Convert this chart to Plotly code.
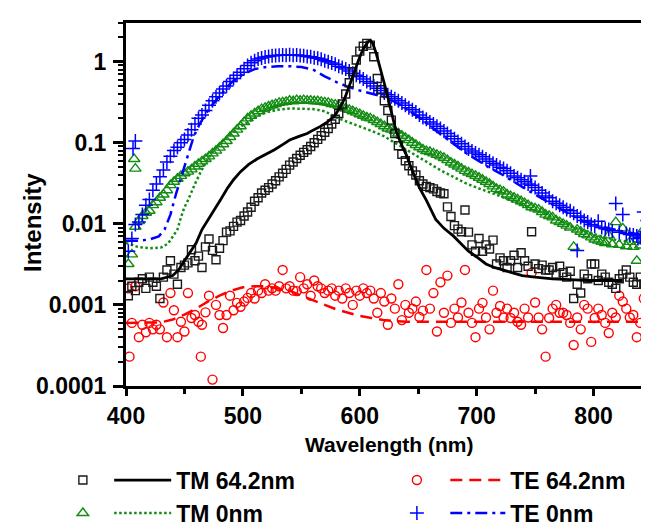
import plotly.graph_objects as go

# ---------------- data ----------------
# common sampling grid of the measured spectra (nm)
wavelength = list(range(402, 850, 3))

tm64_data = [0.0013, 0.0017, 0.0015, 0.0019, 0.0021, 0.0016, 0.0022, 0.0019, 0.0017, 0.0012,
             0.0022, 0.0027, 0.0035, 0.0024, 0.0018, 0.0029, 0.0031, 0.0033, 0.0048, 0.0035,
             0.0040, 0.0029, 0.0052, 0.0065, 0.0047, 0.0036, 0.0050, 0.0062, 0.0079, 0.0082,
             0.0093, 0.0105, 0.0110, 0.0125, 0.0140, 0.0160, 0.0190, 0.0210, 0.0240, 0.0260,
             0.0280, 0.0310, 0.0340, 0.0380, 0.0420, 0.0470, 0.0530, 0.0580, 0.0640, 0.0700,
             0.0760, 0.0820, 0.0900, 0.1000, 0.1100, 0.1220, 0.1350, 0.1500, 0.1700, 0.1950,
             0.2300, 0.3000, 0.4000, 0.5500, 0.7500, 1.0500, 1.3500, 1.5500, 1.6800, 1.6000,
             1.1500, 0.6200, 0.4500, 0.3300, 0.2500, 0.1900, 0.1300, 0.0920, 0.0720, 0.0600,
             0.0520, 0.0450, 0.0400, 0.0340, 0.0310, 0.0290, 0.0280, 0.0270, 0.0250, 0.0240,
             0.0235, 0.0162, 0.0123, 0.0095, 0.0086, 0.0080, 0.0148, 0.0079, 0.0055, 0.0046,
             0.0066, 0.0046, 0.0055, 0.0049, 0.0063, 0.0032, 0.0038, 0.0035, 0.0029, 0.0035,
             0.0041, 0.0029, 0.0044, 0.0035, 0.0030, 0.0080, 0.0032, 0.0028, 0.0031, 0.0027,
             0.0027, 0.0029, 0.0024, 0.0030, 0.0025, 0.0022, 0.0026, 0.0012, 0.0018, 0.0014,
             0.0024, 0.0021, 0.0032, 0.0032, 0.0020, 0.0024, 0.0022, 0.0019, 0.0018, 0.0016,
             0.0021, 0.0024, 0.0027, 0.0022, 0.0019, 0.0018, 0.0022, 0.0018, 0.0021, 0.0018]

tm0_data = [0.0032, 0.0042, 0.0092, 0.0108, 0.0125, 0.0137, 0.0145, 0.0170, 0.0185, 0.0210,
            0.0230, 0.0260, 0.0300, 0.0330, 0.0360, 0.0390, 0.0420, 0.0440, 0.0470, 0.0510,
            0.0550, 0.0590, 0.0630, 0.0680, 0.0740, 0.0800, 0.0870, 0.0960, 0.1050, 0.1180,
            0.1300, 0.1450, 0.1600, 0.1800, 0.2000, 0.2150, 0.2300, 0.2450, 0.2600, 0.2700,
            0.2800, 0.2900, 0.3000, 0.3100, 0.3150, 0.3200, 0.3300, 0.3250, 0.3350, 0.3300,
            0.3350, 0.3300, 0.3300, 0.3250, 0.3250, 0.3200, 0.3150, 0.3100, 0.3000, 0.2950,
            0.2850, 0.2750, 0.2650, 0.2550, 0.2450, 0.2350, 0.2250, 0.2150, 0.2050, 0.2000,
            0.1900, 0.1800, 0.1700, 0.1600, 0.1500, 0.1450, 0.1400, 0.1300, 0.1220, 0.1150,
            0.1080, 0.1000, 0.0940, 0.0880, 0.0830, 0.0790, 0.0770, 0.0740, 0.0710, 0.0680,
            0.0650, 0.0610, 0.0570, 0.0540, 0.0510, 0.0480, 0.0450, 0.0430, 0.0410, 0.0390,
            0.0370, 0.0350, 0.0330, 0.0310, 0.0290, 0.0270, 0.0260, 0.0250, 0.0230, 0.0220,
            0.0210, 0.0200, 0.0190, 0.0180, 0.0170, 0.0160, 0.0155, 0.0150, 0.0140, 0.0130,
            0.0125, 0.0120, 0.0110, 0.0105, 0.0100, 0.0095, 0.0090, 0.0052, 0.0085, 0.0080,
            0.0075, 0.0072, 0.0068, 0.0064, 0.0062, 0.0060, 0.0058, 0.0072, 0.0056, 0.0105,
            0.0055, 0.0088, 0.0053, 0.0060, 0.0052, 0.0035, 0.0054, 0.0086, 0.0050, 0.0051]

te64_data = [0.00160, 0.00060, 0.00170, 0.00040, 0.00057, 0.00046, 0.00060, 0.00050, 0.00057, 0.00050,
             0.00107, 0.00040, 0.00140, 0.00086, 0.00040, 0.00062, 0.00047, 0.00140, 0.00069, 0.00075,
             0.00062, 0.00057, 0.00081, 0.00130, 0.00012, 0.00100, 0.00075, 0.00052, 0.00075, 0.00130,
             0.00086, 0.00106, 0.00095, 0.00110, 0.00122, 0.00140, 0.00120, 0.00150, 0.00140, 0.00180,
             0.00150, 0.00160, 0.00150, 0.00170, 0.00270, 0.00160, 0.00170, 0.00150, 0.00148, 0.00220,
             0.00160, 0.00180, 0.00130, 0.00200, 0.00170, 0.00160, 0.00140, 0.00150, 0.00160, 0.00130,
             0.00150, 0.00120, 0.00160, 0.00140, 0.00100, 0.00150, 0.00130, 0.00160, 0.00140, 0.00150,
             0.00120, 0.00080, 0.00140, 0.00110, 0.00057, 0.00120, 0.00090, 0.00180, 0.00065, 0.00100,
             0.00080, 0.00090, 0.00110, 0.00071, 0.00085, 0.00270, 0.00090, 0.00140, 0.00047, 0.00190,
             0.00080, 0.00230, 0.00060, 0.00090, 0.00070, 0.00107, 0.00270, 0.00080, 0.00060, 0.00040,
             0.00090, 0.00106, 0.00070, 0.00050, 0.00150, 0.00080, 0.00097, 0.00070, 0.00090, 0.00069,
             0.00080, 0.00062, 0.00057, 0.00090, 0.00070, 0.00250, 0.00107, 0.00070, 0.00050, 0.00023,
             0.00069, 0.00090, 0.00100, 0.00080, 0.00080, 0.00075, 0.00060, 0.00032, 0.00070, 0.00050,
             0.00100, 0.00090, 0.00035, 0.00069, 0.00090, 0.00075, 0.00060, 0.00045, 0.00080, 0.00070,
             0.00130, 0.00110, 0.00090, 0.00070, 0.00075, 0.00040, 0.00060, 0.00120, 0.00057, 0.00065]

te0_data = [0.0046, 0.0066, 0.0098, 0.0105, 0.0130, 0.0170, 0.0200, 0.0260, 0.0310, 0.0380,
            0.0460, 0.0580, 0.0680, 0.0800, 0.0880, 0.1000, 0.1100, 0.1250, 0.1450, 0.1700,
            0.2000, 0.2200, 0.2500, 0.2900, 0.3300, 0.3700, 0.4100, 0.4600, 0.5000, 0.5700,
            0.6200, 0.6800, 0.7400, 0.8200, 0.9000, 0.9700, 1.0300, 1.0800, 1.1100, 1.1400,
            1.1600, 1.1800, 1.1900, 1.2000, 1.2100, 1.2000, 1.2200, 1.2000, 1.2100, 1.1900,
            1.1800, 1.1600, 1.1500, 1.1200, 1.1000, 1.0700, 1.0300, 1.0000, 0.9600, 0.9300,
            0.8800, 0.8500, 0.8100, 0.7700, 0.7200, 0.6800, 0.6500, 0.6100, 0.5700, 0.5400,
            0.5000, 0.4700, 0.4400, 0.4100, 0.3900, 0.3700, 0.3500, 0.3300, 0.3100, 0.2900,
            0.2700, 0.2550, 0.2400, 0.2200, 0.2050, 0.1950, 0.1800, 0.1700, 0.1600, 0.1500,
            0.1400, 0.1300, 0.1200, 0.1120, 0.1040, 0.0970, 0.0900, 0.0840, 0.0790, 0.0750,
            0.0710, 0.0670, 0.0630, 0.0590, 0.0560, 0.0530, 0.0500, 0.0480, 0.0450, 0.0420,
            0.0390, 0.0370, 0.0350, 0.0330, 0.0310, 0.0300, 0.0280, 0.0260, 0.0240, 0.0220,
            0.0210, 0.0190, 0.0180, 0.0170, 0.0160, 0.0150, 0.0145, 0.0135, 0.0125, 0.0120,
            0.0110, 0.0105, 0.0098, 0.0094, 0.0108, 0.0090, 0.0087, 0.0085, 0.0082, 0.0178,
            0.0079, 0.0130, 0.0076, 0.0074, 0.0073, 0.0071, 0.0068, 0.0140, 0.0110, 0.0066]

# scattered extra points off the common grid
tm0_extra_wl = [407, 408]
tm0_extra = [0.063, 0.048]
te0_extra_wl = [406, 408, 746, 786, 838]
te0_extra = [0.085, 0.105, 0.039, 0.0047, 0.0066]
te64_extra_wl = [403, 464]
te64_extra = [0.00023, 0.00023]

# fitted / simulated curves
tm64_fit_wl = [400, 410, 420, 430, 440, 445, 450, 455, 460, 465, 470, 476, 481, 487, 492, 498,
               505, 512, 520, 527, 535, 540, 548, 555, 560, 566, 572, 578, 583, 587, 591, 595,
               599, 603, 607, 609, 611, 614, 618, 623, 627, 631, 635, 640, 645, 651, 657, 665,
               672, 680, 686, 693, 700, 708, 715, 722, 730, 739, 750, 765, 780, 795, 810, 825]
tm64_fit = [0.0021, 0.0021, 0.0021, 0.0021, 0.0023, 0.0027, 0.0035, 0.0045, 0.0058, 0.0085,
            0.011, 0.015, 0.020, 0.0278, 0.035, 0.044, 0.054, 0.063, 0.072, 0.082, 0.097, 0.108,
            0.12, 0.13, 0.143, 0.158, 0.18, 0.21, 0.27, 0.35, 0.5, 0.73, 1.05, 1.45, 1.75, 1.82,
            1.7, 1.27, 0.8, 0.42, 0.24, 0.14, 0.1, 0.07, 0.045, 0.028, 0.0195, 0.0113, 0.0088,
            0.0071, 0.0058, 0.0046, 0.0039, 0.0032, 0.0029, 0.0027, 0.0025, 0.0023, 0.0022,
            0.0021, 0.00205, 0.002, 0.002, 0.002]

tm0_fit_wl = [400, 410, 420, 430, 436, 440, 444, 447, 450, 453, 456, 459, 464, 470, 475, 481,
              487, 493, 500, 506, 513, 521, 530, 540, 550, 560, 570, 580, 590, 600, 610, 620,
              630, 640, 650, 660, 670, 680, 690, 700, 710, 720, 730, 740, 750, 760, 770, 780,
              790, 800, 810, 820, 830, 840, 850]
tm0_fit = [0.0058, 0.0052, 0.005, 0.0051, 0.0057, 0.007, 0.0085, 0.012, 0.016, 0.0195, 0.025,
           0.031, 0.044, 0.063, 0.08, 0.1, 0.12, 0.14, 0.165, 0.186, 0.215, 0.24, 0.255, 0.265,
           0.265, 0.26, 0.245, 0.205, 0.18, 0.16, 0.14, 0.122, 0.1, 0.083, 0.068, 0.055, 0.045,
           0.038, 0.032, 0.028, 0.025, 0.022, 0.019, 0.017, 0.015, 0.013, 0.011, 0.0095, 0.0083,
           0.0075, 0.0068, 0.0063, 0.006, 0.0058, 0.0056]

te64_fit_wl = [400, 410, 420, 430, 440, 450, 460, 470, 480, 490, 500, 510, 520, 530, 540, 550,
               560, 570, 580, 590, 600, 610, 620, 630, 640, 660, 700, 750, 800, 850]
te64_fit = [0.0006, 0.0006, 0.0006, 0.00061, 0.00066, 0.00076, 0.0009, 0.0011, 0.0013, 0.0015,
            0.00165, 0.0017, 0.0017, 0.0016, 0.0015, 0.0013, 0.00115, 0.001, 0.00088, 0.0008,
            0.00073, 0.00069, 0.00065, 0.00063, 0.00062, 0.00062, 0.00062, 0.00062, 0.00062, 0.00062]

te0_fit_wl = [400, 410, 420, 428, 433, 438, 443, 448, 453, 458, 463, 470, 480, 490, 500, 510,
              520, 530, 540, 550, 560, 570, 580, 590, 600, 610, 620, 630, 640, 650, 660, 670,
              680, 690, 700, 710, 720, 730, 740, 750, 760, 770, 780, 790, 800, 810, 820, 830,
              840, 850]
te0_fit = [0.0062, 0.0062, 0.0064, 0.007, 0.0085, 0.013, 0.024, 0.042, 0.07, 0.12, 0.17, 0.25,
           0.38, 0.55, 0.7, 0.81, 0.86, 0.88, 0.88, 0.86, 0.8, 0.66, 0.56, 0.49, 0.44, 0.4, 0.37,
           0.32, 0.26, 0.21, 0.16, 0.125, 0.097, 0.076, 0.062, 0.05, 0.042, 0.034, 0.028, 0.023,
           0.019, 0.016, 0.013, 0.011, 0.0098, 0.009, 0.0083, 0.0078, 0.0074, 0.007]

y_tickvals = [0.0001, 0.001, 0.01, 0.1, 1]
y_ticktext = ["0.0001", "0.001", "0.01", "0.1", "1"]
x_tickvals = [400, 500, 600, 700, 800]

# ---------------- styling ----------------
BLACK = "#1a1a1a"
GREEN = "#118c11"
BLUE = "#0000ff"
RED = "#ff0000"
FONT = "Liberation Sans, Arial, sans-serif"

fig = go.Figure()

# ---- data and curves (drawn bottom to top) ----
fig.add_trace(go.Scatter(
    x=wavelength + te64_extra_wl, y=te64_data + te64_extra, mode="markers", name=" ",
    marker=dict(symbol="circle-open", size=9, color=RED, line=dict(width=1.4, color=RED)),
    legend="legend3", legendrank=1))
fig.add_trace(go.Scatter(
    x=te64_fit_wl, y=te64_fit, mode="lines", name="TE 64.2nm",
    line=dict(color=RED, width=2.5, dash="12px,7px"), legend="legend4", legendrank=1))

fig.add_trace(go.Scatter(
    x=wavelength + tm0_extra_wl, y=tm0_data + tm0_extra, mode="markers", name=" ",
    marker=dict(symbol="triangle-up-open", size=10, color=GREEN, line=dict(width=1.4, color=GREEN)),
    legend="legend", legendrank=2))
fig.add_trace(go.Scatter(
    x=tm0_fit_wl, y=tm0_fit, mode="lines", name="TM 0nm",
    line=dict(color=GREEN, width=2.5, dash="2.5px,2.5px"), legend="legend2", legendrank=2))

fig.add_trace(go.Scatter(
    x=wavelength + te0_extra_wl, y=te0_data + te0_extra, mode="markers", name=" ",
    marker=dict(symbol="cross-thin-open", size=10, color=BLUE, line=dict(width=1.5, color=BLUE)),
    legend="legend3", legendrank=2))
fig.add_trace(go.Scatter(
    x=te0_fit_wl, y=te0_fit, mode="lines", name="TE 0nm",
    line=dict(color=BLUE, width=2.5, dash="12px,5px,3px,5px"), legend="legend4", legendrank=2))

fig.add_trace(go.Scatter(
    x=wavelength, y=tm64_data, mode="markers", name=" ",
    marker=dict(symbol="square-open", size=8, color=BLACK, line=dict(width=1.4, color=BLACK)),
    legend="legend", legendrank=1))
fig.add_trace(go.Scatter(
    x=tm64_fit_wl, y=tm64_fit, mode="lines", name="TM 64.2nm",
    line=dict(color="black", width=2.8), legend="legend2", legendrank=1))

legend_common = dict(
    orientation="v", yanchor="top", xanchor="left", y=-0.2,
    bgcolor="rgba(0,0,0,0)", borderwidth=0, traceorder="normal",
    font=dict(family=FONT, size=23, color="black", weight="bold"),
    tracegroupgap=0,
)

TICKFONT = dict(family=FONT, size=23, color="black", weight="bold")

fig.update_layout(
    width=649, height=529,
    margin=dict(l=118, r=2, t=15, b=135),
    paper_bgcolor="white", plot_bgcolor="white",
    showlegend=True,
    legend=dict(legend_common, x=-0.12),
    legend2=dict(legend_common, x=-0.032, itemwidth=57),
    legend3=dict(legend_common, x=0.515),
    legend4=dict(legend_common, x=0.607, itemwidth=55),
    xaxis=dict(
        range=[400, 850], tickvals=x_tickvals, ticks="outside", ticklen=7, tickwidth=2.5,
        tickcolor="black", showline=True, linewidth=3, linecolor="black", mirror=True,
        showgrid=False, zeroline=False, tickfont=TICKFONT,
        minor=dict(tickvals=[450, 550, 650, 750, 850], ticks="outside", ticklen=5,
                   tickwidth=2.5, tickcolor="black", showgrid=False),
    ),
    yaxis=dict(
        type="log", range=[-4, 0.477], tickvals=y_tickvals, ticktext=y_ticktext,
        ticks="outside", ticklen=10, tickwidth=2.5, tickcolor="black",
        showline=True, linewidth=3, linecolor="black", mirror=True,
        showgrid=False, zeroline=False, tickfont=TICKFONT, ticklabelstandoff=2,
        minor=dict(tickvals=[m * d for d in (0.0001, 0.001, 0.01, 0.1, 1)
                             for m in range(2, 10) if m * d <= 3],
                   ticks="outside", ticklen=5, tickwidth=2, tickcolor="black", showgrid=False),
    ),
    annotations=[
        dict(text="Intensity", xref="paper", yref="paper", x=-0.178, y=0.45,
             xanchor="center", yanchor="middle", textangle=-90, showarrow=False,
             font=dict(family=FONT, size=24, color="black", weight="bold")),
        dict(text="Wavelength (nm)", xref="paper", yref="paper", x=0.5, y=-0.161,
             xanchor="center", yanchor="middle", showarrow=False,
             font=dict(family=FONT, size=21, color="black", weight="bold")),
    ],
)

fig.write_html("out.html")
